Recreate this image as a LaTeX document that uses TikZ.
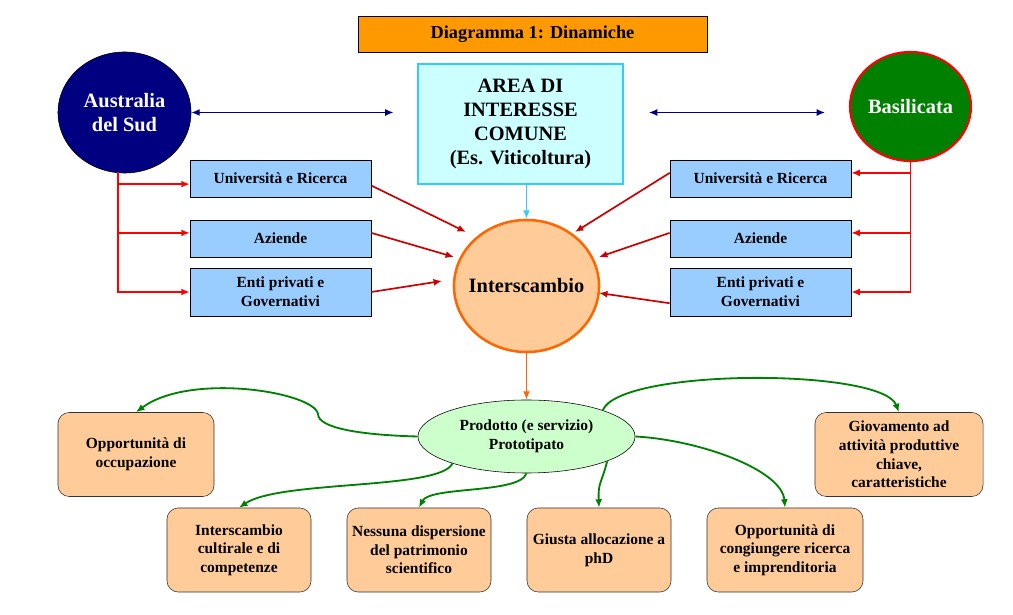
\documentclass[tikz,border=0pt]{standalone}
\usepackage{fontspec}
\setmainfont{Liberation Serif}
\usetikzlibrary{arrows.meta,positioning,shapes.geometric}
\definecolor{arancio}{HTML}{FF9900}
\definecolor{azzurro}{HTML}{CCFFFF}
\definecolor{ciano}{HTML}{33CCFF}
\definecolor{blunotte}{HTML}{000080}
\definecolor{verdescuro}{HTML}{008000}
\definecolor{celeste}{HTML}{99CCFF}
\definecolor{pesca}{HTML}{FFCC99}
\definecolor{arancioscuro}{HTML}{FF6600}
\definecolor{verdino}{HTML}{CCFFCC}
\definecolor{rossoscuro}{HTML}{CC0000}

\begin{document}
\begin{tikzpicture}[
  x=0.025cm, y=-0.025cm,
  >={Latex[length=6pt,width=5pt]},
  every node/.style={font=\bfseries, inner sep=1pt},
  titolo/.style={draw, fill=arancio, minimum width=8.725cm, minimum height=0.9cm, font=\bfseries\fontsize{13}{15}\selectfont},
  area/.style={draw=ciano, line width=0.8pt, fill=azzurro, minimum width=5.125cm, minimum height=3cm, align=center, font=\bfseries\fontsize{14.5}{17}\selectfont},
  regione/.style={ellipse, inner sep=0pt, align=center, text=white, font=\bfseries\fontsize{14.5}{16.5}\selectfont},
  ente/.style={draw, fill=celeste, minimum width=4.525cm, minimum height=0.925cm, align=center, font=\bfseries\fontsize{11}{13.3}\selectfont},
  esito/.style={draw=black!80, fill=pesca, rounded corners=8pt, minimum height=2.1cm, align=center, font=\bfseries\fontsize{11}{13.3}\selectfont},
  ramo/.style={->, red, line width=1.2pt},
  flusso/.style={->, rossoscuro, line width=1.2pt},
  scambio/.style={<->, blunotte, line width=1pt},
  ricaduta/.style={->, verdescuro, line width=1.3pt}
]
\useasboundingbox (0,0) rectangle (1013,615);

\node[titolo] (tit) at (532.5,34) {Diagramma 1: Dinamiche};
\node[area] (area) at (520.5,124) {AREA DI\\INTERESSE\\COMUNE\\(Es. Viticoltura)};
\node[regione, draw, fill=blunotte, minimum width=3.325cm, minimum height=3.025cm] (aus) at (124.5,112.5) {Australia\\del Sud};
\node[regione, draw=red, line width=1.5pt, fill=verdescuro, minimum width=3.025cm, minimum height=2.725cm] (bas) at (910.5,106.5) {\makebox[2cm]{Basilicata}};

\node[ente] (ur1) at (280.5,178.5) {Università e Ricerca};
\node[ente] (az1) at (280.5,238.5) {Aziende};
\node[ente, minimum height=1.2cm] (en1) at (280.5,292) {Enti privati e\\Governativi};
\node[ente] (ur2) at (760.5,178.5) {Università e Ricerca};
\node[ente] (az2) at (760.5,238.5) {Aziende};
\node[ente, minimum height=1.2cm] (en2) at (760.5,292) {Enti privati e\\Governativi};

\node[ellipse, draw=arancioscuro, line width=1.8pt, fill=pesca, inner sep=0pt, minimum width=3.625cm, minimum height=3.3cm, font=\bfseries\fontsize{14.5}{16.5}\selectfont] (inter) at (526.5,286) {\makebox[2cm]{Interscambio}};
\node[ellipse, draw, fill=verdino, inner sep=0pt, minimum width=5.425cm, minimum height=1.825cm, align=center, font=\bfseries\fontsize{11}{13.3}\selectfont] (prod) at (526.5,436.5) {Prodotto (e servizio)\\Prototipato};

\node[esito, minimum width=3.9cm] (occ) at (136,454.5) {Opportunità di\\occupazione};
\node[esito, minimum width=3.6cm] (cult) at (239,550) {Interscambio\\cultirale e di\\competenze};
\node[esito, minimum width=3.6cm] (ness) at (419,550) {Nessuna dispersione\\del patrimonio\\scientifico};
\node[esito, minimum width=3.6cm] (giu) at (599,550) {Giusta allocazione a\\phD};
\node[esito, minimum width=3.9cm] (cong) at (785,550) {Opportunità di\\congiungere ricerca\\e imprenditoria};
\node[esito, minimum width=4.2cm] (giov) at (899,454.5) {Giovamento ad\\attività produttive\\chiave,\\caratteristiche};

\coordinate (l1) at (466,232);
\coordinate (l2) at (454,257);
\coordinate (l3) at (442,281);
\coordinate (r1) at (575,232);
\coordinate (r2) at (599,257);
\coordinate (r3) at (599,293);
\coordinate (tronco) at (118,172);

\draw[scambio] (aus.east) -- ([xshift=-17pt]aus.east -| area.west);
\draw[scambio] ([xshift=18pt]aus.east -| area.east) -- ([xshift=-17pt]aus.east -| bas.west);

\draw[ramo] (tronco) |- ([yshift=-4pt]ur1.west);
\draw[ramo] (tronco) |- ([yshift=4pt]az1.west);
\draw[ramo] (tronco) |- (en1.west);
\draw[ramo] (bas.south) |- ([yshift=4pt]ur2.east);
\draw[ramo] (bas.south) |- ([yshift=4pt]az2.east);
\draw[ramo] (bas.south) |- (en2.east);

\draw[flusso] ([yshift=-5pt]ur1.east) -- (l1);
\draw[flusso] ([yshift=4pt]az1.east) -- (l2);
\draw[flusso] (en1.east) -- (l3);
\draw[flusso] ([yshift=4pt]ur2.west) -- (r1);
\draw[flusso] ([yshift=4pt]az2.west) -- (r2);
\draw[flusso] ([yshift=-8pt]en2.west) -- (r3);

\draw[->, ciano, line width=1.3pt] (area.south -| inter.north) -- (inter.north);
\draw[->, arancioscuro, line width=1.3pt] (inter.south) -- (prod.north);

\draw[ricaduta] (prod.west) .. controls (360,435) and (318,428) .. (318,414) .. controls (314,392) and (190,372) .. (occ.north);
\draw[ricaduta] (prod.-160) .. controls (440,490) and (280,480) .. (cult.north);
\draw[ricaduta] (prod.south) .. controls (520,494) and (430,486) .. (ness.north);
\draw[ricaduta] (prod.-17.5) .. controls (601,485) and (598,482) .. (giu.north);
\draw[ricaduta] (prod.east) .. controls (700,440) and (782,470) .. (cong.north);
\draw[ricaduta] (prod.19) .. controls (620,368) and (882,368) .. (giov.north);
\end{tikzpicture}
\end{document}
